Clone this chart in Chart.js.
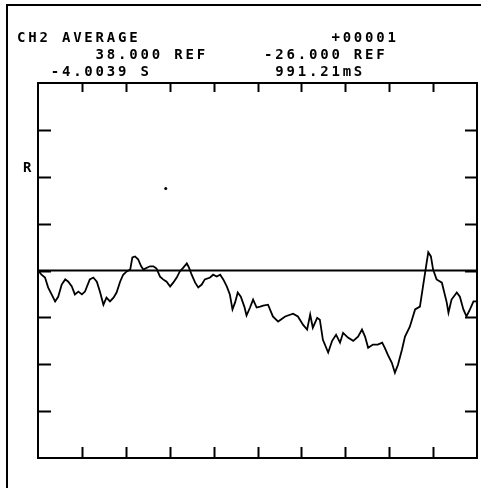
<!DOCTYPE html>
<html>
<head>
<meta charset="utf-8">
<script src="https://cdn.jsdelivr.net/npm/chart.js@4"></script>
<style>
  body { margin: 0; background: #fff; }
  #wrap { position: relative; width: 481px; height: 488px; overflow: hidden; }
  #frame { position: absolute; left: 6px; top: 4px; width: 480px; height: 490px;
           border-left: 2px solid #000; border-top: 2px solid #000; }
  .lbl { position: absolute; font-family: "DejaVu Sans Mono", monospace; font-size: 14px;
         font-weight: bold; letter-spacing: 2.8px; line-height: 14px; white-space: pre; color: #000; }
</style>
</head>
<body>
<div id="wrap">
  <div id="frame"></div>
  <canvas id="chart" width="481" height="488"></canvas>
  <div class="lbl" style="left:17px; top:30px;">CH2 AVERAGE                 +00001</div>
  <div class="lbl" style="left:17px; top:47px;">       38.000 REF     -26.000 REF</div>
  <div class="lbl" style="left:17px; top:64px;">   -4.0039 S           991.21mS</div>
  <div class="lbl" style="left:23px; top:160px;">R</div>
</div>
<script>
// trace, x and y in divisions (10 x 8 graticule, 0 = REF line)
const traceX = [
  0.02, 0.08, 0.16, 0.23, 0.31, 0.39, 0.46, 0.54, 0.62, 0.69, 0.77, 0.84, 0.92, 1.00, 1.07,
  1.18, 1.26, 1.34, 1.41, 1.49, 1.56, 1.64, 1.72, 1.79, 1.87, 1.94, 2.02, 2.10, 2.15, 2.21,
  2.28, 2.35, 2.40, 2.48, 2.55, 2.63, 2.70, 2.78, 2.85, 2.93, 3.01, 3.08, 3.16, 3.23, 3.31,
  3.39, 3.44, 3.50, 3.58, 3.65, 3.73, 3.80, 3.92, 3.99, 4.07, 4.15, 4.22, 4.30, 4.37, 4.43,
  4.49, 4.55, 4.62, 4.70, 4.75, 4.83, 4.90, 4.98, 5.06, 5.13, 5.24, 5.35, 5.47, 5.63, 5.81,
  5.92, 6.04, 6.13, 6.20, 6.26, 6.36, 6.42, 6.49, 6.61, 6.70, 6.79, 6.88, 6.95, 7.06, 7.18,
  7.29, 7.38, 7.45, 7.52, 7.63, 7.74, 7.84, 7.90, 7.97, 8.06, 8.13, 8.20, 8.29, 8.36, 8.47,
  8.59, 8.70, 8.77, 8.84, 8.89, 8.95, 9.00, 9.08, 9.20, 9.31, 9.35, 9.42, 9.54, 9.61, 9.69,
  9.76, 9.84, 9.92, 9.99, 10.0
];
const traceY = [
  -0.02, -0.09, -0.15, -0.36, -0.51, -0.66, -0.56, -0.30, -0.19, -0.24, -0.34, -0.51, -0.45, -0.51, -0.45,
  -0.19, -0.15, -0.24, -0.45, -0.73, -0.58, -0.66, -0.58, -0.47, -0.24, -0.09, -0.02, 0.02, 0.28, 0.30,
  0.24, 0.09, 0.02, 0.06, 0.09, 0.09, 0.04, -0.13, -0.19, -0.24, -0.34, -0.26, -0.15, -0.02, 0.06,
  0.15, 0.06, -0.09, -0.26, -0.36, -0.30, -0.19, -0.15, -0.09, -0.13, -0.09, -0.19, -0.34, -0.51, -0.83,
  -0.68, -0.47, -0.56, -0.77, -0.96, -0.79, -0.62, -0.79, -0.77, -0.75, -0.73, -0.98, -1.09, -0.98, -0.92,
  -0.98, -1.16, -1.26, -0.94, -1.22, -1.01, -1.05, -1.48, -1.75, -1.50, -1.37, -1.54, -1.33, -1.43, -1.50,
  -1.41, -1.26, -1.41, -1.65, -1.58, -1.58, -1.54, -1.65, -1.80, -1.97, -2.18, -2.01, -1.69, -1.41, -1.20,
  -0.83, -0.77, -0.34, 0.09, 0.39, 0.30, 0.02, -0.19, -0.26, -0.68, -0.90, -0.62, -0.47, -0.56, -0.83,
  -0.98, -0.83, -0.66, -0.66, -0.73
];
const refLineX = [0, 10];
const refLineY = [0, 0];
const strayDot = [{ x: 2.91, y: 1.75 }];

const xTicks = [1, 2, 3, 4, 5, 6, 7, 8, 9];
const yTicks = [-3, -2, -1, 0, 1, 2, 3];

const toPoints = (xs, ys) => xs.map((x, i) => ({ x: x, y: ys[i] }));

// graticule box with inward ticks, placed through the scales
const graticule = {
  id: "graticule",
  afterDatasetsDraw(chart) {
    const { ctx, chartArea: a, scales } = chart;
    ctx.save();
    ctx.strokeStyle = "#000";
    ctx.lineWidth = 2;
    ctx.strokeRect(a.left, a.top, a.right - a.left, a.bottom - a.top);
    ctx.beginPath();
    xTicks.forEach(t => {
      const px = Math.round(scales.x.getPixelForValue(t)) + 0.5;
      ctx.moveTo(px, a.top); ctx.lineTo(px, a.top + 9);
      ctx.moveTo(px, a.bottom); ctx.lineTo(px, a.bottom - 11);
    });
    yTicks.forEach(t => {
      const py = Math.round(scales.y.getPixelForValue(t)) + 0.5;
      ctx.moveTo(a.left, py); ctx.lineTo(a.left + 13, py);
      ctx.moveTo(a.right, py); ctx.lineTo(a.right - 12, py);
    });
    ctx.stroke();
    ctx.restore();
  }
};

new Chart(document.getElementById("chart"), {
  type: "scatter",
  data: {
    datasets: [
      {
        data: toPoints(traceX, traceY),
        showLine: true,
        borderColor: "#000",
        borderWidth: 1.8,
        pointRadius: 0,
        tension: 0
      },
      {
        data: toPoints(refLineX, refLineY),
        showLine: true,
        borderColor: "#000",
        borderWidth: 2,
        pointRadius: 0
      },
      {
        data: strayDot,
        pointRadius: 1.5,
        pointBackgroundColor: "#000",
        pointBorderWidth: 0
      }
    ]
  },
  options: {
    responsive: false,
    animation: false,
    devicePixelRatio: 1,
    layout: { padding: { left: 38, top: 83, right: 3, bottom: 30 } },
    plugins: { legend: { display: false }, tooltip: { enabled: false } },
    scales: {
      x: { type: "linear", min: 0, max: 10, display: false },
      y: { type: "linear", min: -4, max: 4, display: false }
    }
  },
  plugins: [graticule]
});
</script>
</body>
</html>
